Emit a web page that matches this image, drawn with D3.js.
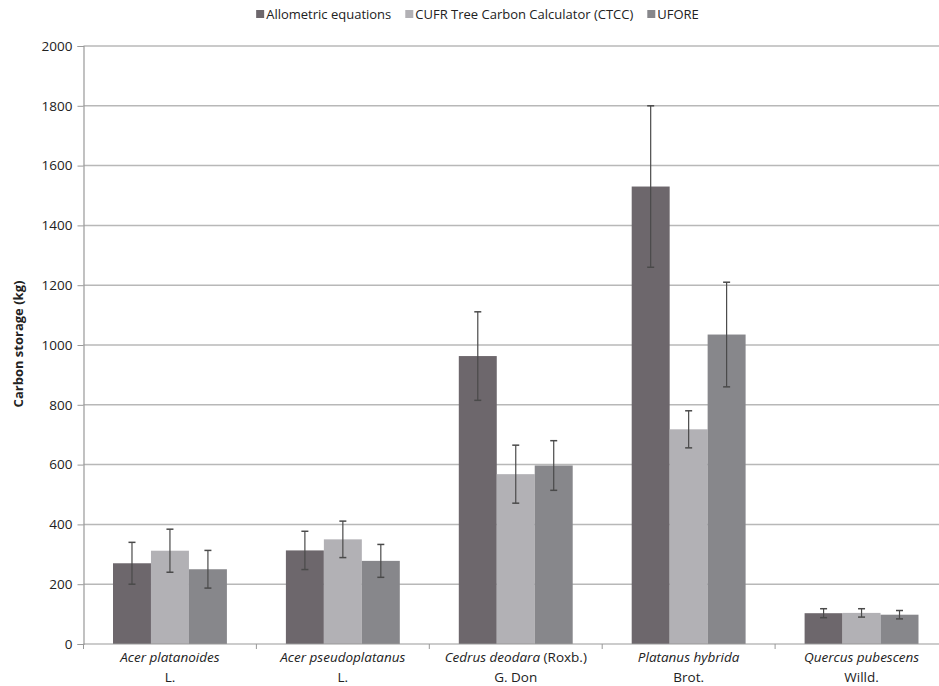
<!DOCTYPE html>
<html><head><meta charset="utf-8">
<script src="https://cdn.jsdelivr.net/npm/d3@7"></script>
<style>body{margin:0;background:#fff}svg{display:block}</style>
</head><body>
<svg id="c" width="939" height="686"></svg>
<script>
const categories = ["Acer platanoides|L.", "Acer pseudoplatanus|L.", "Cedrus deodara| (Roxb.)|G. Don", "Platanus hybrida|Brot.", "Quercus pubescens|Willd."];
const seriesNames = ["Allometric equations", "CUFR Tree Carbon Calculator (CTCC)", "UFORE"];
const allometric = [270, 313, 963, 1530, 103];
const allometricErr = [70, 64, 148, 270, 15];
const ctcc = [312, 350, 568, 718, 104];
const ctccErr = [72, 61, 97, 62, 14];
const ufore = [250, 278, 597, 1035, 98];
const uforeErr = [63, 55, 83, 175, 14];
const yTicks = [0, 200, 400, 600, 800, 1000, 1200, 1400, 1600, 1800, 2000];
const colors = ["#6d676c", "#b2b1b5", "#87878b"];

const values = [allometric, ctcc, ufore];
const errs = [allometricErr, ctccErr, uforeErr];
const svg = d3.select("#c");
const font = "'Open Sans', sans-serif";
const pLeft = 83.5, pRight = 948, pTop = 46, pBottom = 644;

const x0 = d3.scaleBand().domain(d3.range(categories.length)).range([pLeft, pRight]).paddingInner(0).paddingOuter(0);
const x1 = d3.scaleBand().domain(d3.range(3)).range([29.5, x0.bandwidth() - 29.5]).padding(0);
const y = d3.scaleLinear().domain([0, 2000]).range([pBottom, pTop]);

// gridlines
svg.append("g").selectAll("line").data(yTicks.slice(1)).join("line")
  .attr("x1", pLeft).attr("x2", pRight).attr("y1", d => y(d)).attr("y2", d => y(d))
  .attr("stroke", "#b8b8b8").attr("stroke-width", 1.5);

// bars
const g = svg.append("g");
categories.forEach((c, i) => {
  for (let s = 0; s < 3; s++) {
    const v = values[s][i], e = errs[s][i];
    const bx = x0(i) + x1(s);
    g.append("rect").attr("x", bx).attr("y", y(v)).attr("width", x1.bandwidth()).attr("height", y(0) - y(v)).attr("fill", colors[s]);
    const cx = bx + x1.bandwidth() / 2;
    g.append("line").attr("x1", cx).attr("x2", cx).attr("y1", y(v + e)).attr("y2", y(v - e)).attr("stroke", "#4a4a4a").attr("stroke-width", 1.2);
    [v + e, v - e].forEach(t => g.append("line").attr("x1", cx - 3.5).attr("x2", cx + 3.5).attr("y1", y(t)).attr("y2", y(t)).attr("stroke", "#4a4a4a").attr("stroke-width", 1.5));
  }
});

// y axis
const ya = svg.append("g").attr("transform", `translate(${pLeft},0)`)
  .call(d3.axisLeft(y).tickValues(yTicks).tickFormat(d3.format("d")).tickSize(6).tickPadding(5));
ya.select(".domain").attr("stroke", "#999").attr("stroke-width", 1.2);
ya.selectAll(".tick line").attr("stroke", "#999");
ya.selectAll("text").attr("font-family", font).attr("font-size", 13.5).attr("fill", "#222");

// x axis
svg.append("line").attr("x1", pLeft).attr("x2", pRight).attr("y1", pBottom).attr("y2", pBottom).attr("stroke", "#999").attr("stroke-width", 1.2);
svg.append("g").selectAll("line").data(d3.range(categories.length + 1)).join("line")
  .attr("x1", d => pLeft + d * x0.bandwidth()).attr("x2", d => pLeft + d * x0.bandwidth())
  .attr("y1", pBottom).attr("y2", pBottom + 5).attr("stroke", "#999");

categories.forEach((c, i) => {
  const parts = c.split("|");
  const cx = x0(i) + x0.bandwidth() / 2;
  const t1 = svg.append("text").attr("x", cx).attr("y", 662).attr("text-anchor", "middle")
    .attr("font-family", font).attr("font-size", 13.5).attr("fill", "#222");
  t1.append("tspan").attr("font-style", "italic").text(parts[0]);
  if (parts.length === 3) t1.append("tspan").text(parts[1]);
  svg.append("text").attr("x", cx).attr("y", 682).attr("text-anchor", "middle")
    .attr("font-family", font).attr("font-size", 13.5).attr("fill", "#222").text(parts[parts.length - 1]);
});

// y label
svg.append("text").attr("transform", "translate(23,344) rotate(-90)").attr("text-anchor", "middle")
  .attr("font-family", font).attr("font-size", 13).attr("font-weight", "bold").attr("fill", "#222").text("Carbon storage (kg)");

// legend
const leg = svg.append("g");
let lx = 0;
seriesNames.forEach((n, s) => {
  leg.append("rect").attr("x", lx).attr("y", 10).attr("width", 8).attr("height", 8).attr("fill", colors[s]);
  const t = leg.append("text").attr("x", lx + 10).attr("y", 19).attr("font-family", font).attr("font-size", 13).attr("fill", "#222").text(n);
  lx += 10 + t.node().getComputedTextLength() + 14;
});
const legW = lx - 14;
leg.attr("transform", `translate(${477.5 - legW / 2},0)`);
</script>
</body></html>
